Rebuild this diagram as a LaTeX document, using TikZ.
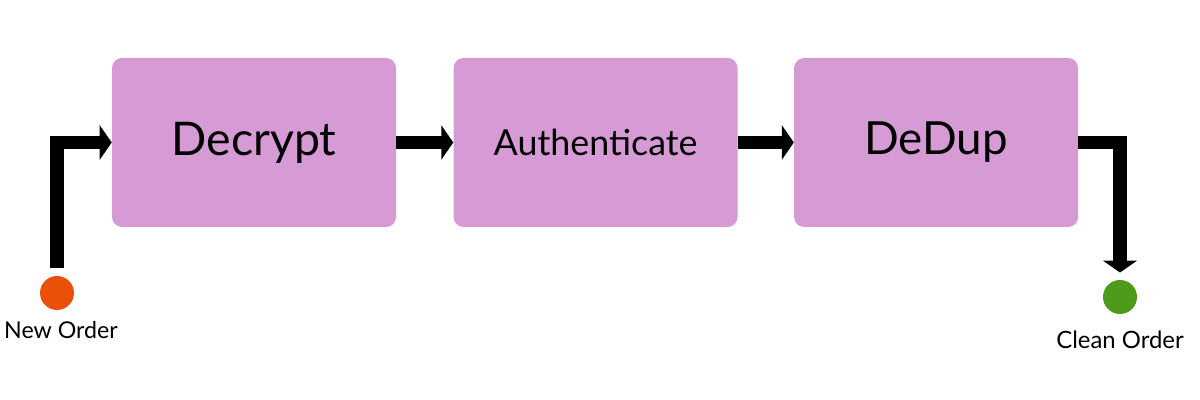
\documentclass[tikz,border=0pt]{standalone}
\usepackage{fontspec}
\setmainfont{Lato}
\usepackage{tikz}
\usetikzlibrary{positioning,      % placement relatif
                arrows.meta,      % pointes de fleches
                calc}
\definecolor{mauve}{RGB}{214,154,213}
\definecolor{orangeo}{RGB}{234,80,10}
\definecolor{verto}{RGB}{78,154,26}
\tikzset{
  etape/.style={fill=mauve, rounded corners=0.25cm, minimum width=7.1cm,
                minimum height=4.225cm, inner sep=0},
  fleche/.style={line width=0.33cm, line join=miter,
                 -{Triangle[length=0.3cm,width=0.85cm]}},
  point/.style={circle, minimum size=0.85cm, inner sep=0},
}

\begin{document}
\begin{tikzpicture}
\useasboundingbox (0,0) rectangle (30,10);
% les trois etapes
\node[etape](dec) at (6.35,6.4375){\fontsize{33}{38}\selectfont Decrypt};
\node[etape, right=1.425cm of dec](auth){\fontsize{25.5}{30}\selectfont Authenticate};
\node[etape, right=1.4cm of auth](dedup){\fontsize{32.5}{38}\selectfont DeDup};
% entree et sortie
\node[point, fill=orangeo](neworder) at (1.425,2.675){};
\node[inner sep=0, below=0.26cm of neworder, anchor=north, xshift=0.1cm]{\fontsize{16.5}{19}\selectfont New Order};
\node[point, fill=verto](cleanorder) at (28.0,2.575){};
\node[inner sep=0, below=0.4cm of cleanorder, anchor=north]{\fontsize{17}{20}\selectfont Clean Order};
% fleches
\draw[fleche, shorten <=0.2cm] (neworder) |- (dec);
\draw[fleche] (dec) -- (auth);
\draw[fleche] (auth) -- (dedup);
\draw[fleche, shorten >=0.18cm] (dedup) -| (cleanorder);
\end{tikzpicture}
\end{document}
